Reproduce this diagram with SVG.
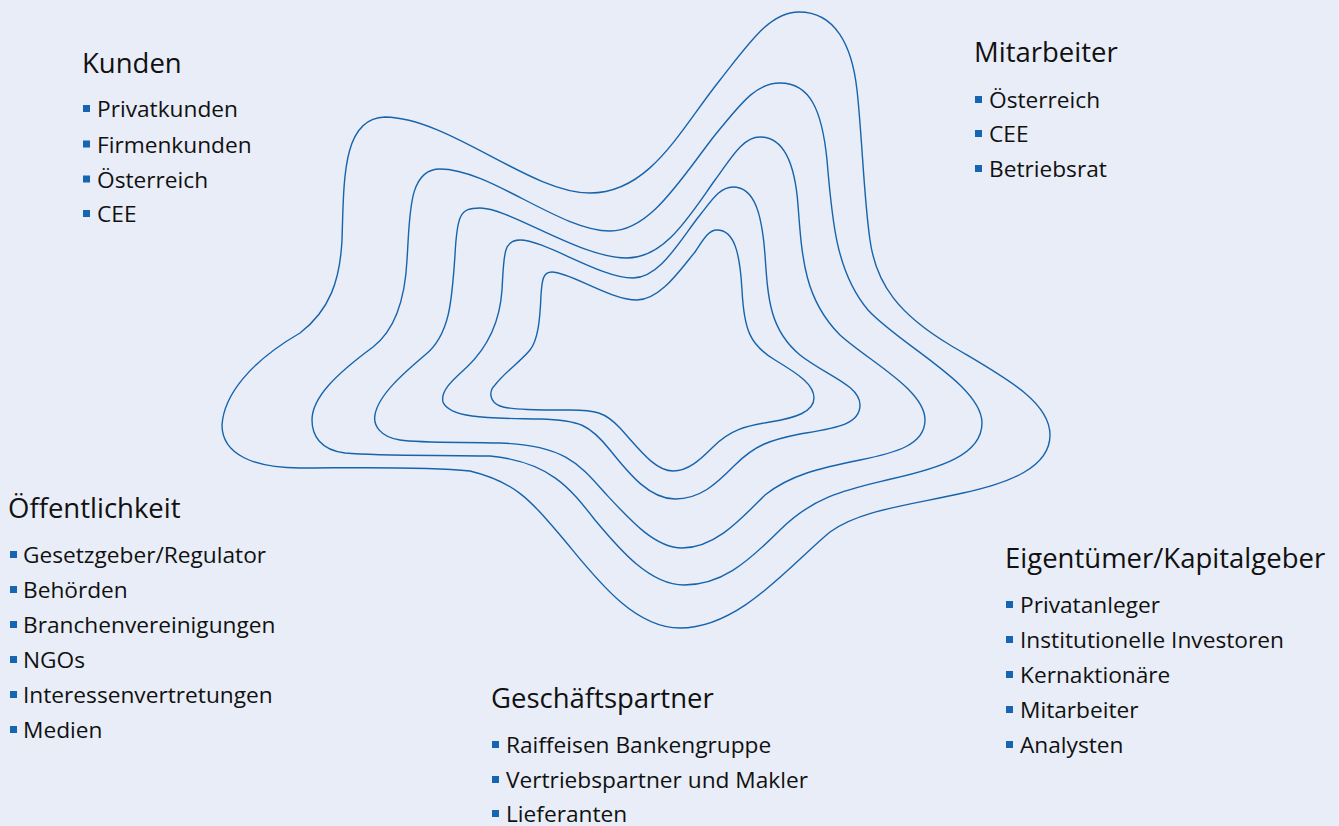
<svg xmlns="http://www.w3.org/2000/svg" width="1339" height="826" viewBox="0 0 1339 826">
<style>
.bg{fill:#e8edf7}
.ring{fill:none;stroke:#1763ac;stroke-width:1.4}
.t{font-family:"Open Sans","Noto Sans","Liberation Sans",sans-serif;fill:#111}
.h{font-size:27.5px}
.i{font-size:22.7px}
.b{fill:#1565b2}
</style>
<rect class="bg" x="0" y="0" width="1339" height="826"/>
<g id="rings">
<path id="ring1" class="ring" d="M799,12 C835,12 852,45 857,90 C862,135 864,200 870,240 C876,285 900,315 950,345 C1000,375 1050,400 1050,435 C1050,467 1010,483 963,493 C910,505 860,510 830,532 C790,565 740,628 680,628 C630,628 590,570 560,535 C530,500 515,482 470,471 C420,466 350,468 300,468 C255,468 222,455 222,425 C224,395 250,362 300,333 C330,310 340,280 342,240 C344,180 342,118 385,117 C450,118 530,193 590,193 C650,193 680,130 720,80 C750,42 770,12 799,12 Z"/>
<path id="ring2" class="ring" d="M780,83 C810,83 822,110 827,160 C832,220 836,272 868,310 C900,345 982,385 982,423 C982,455 940,468 891,479 C850,489 815,495 780,530 C745,565 720,585 684,585 C650,585 620,550 595,520 C570,488 550,462 490,456 C430,455 380,456 345,453 C320,450 312,435 312,420 C312,398 335,375 373,347 C395,330 405,300 407,260 C410,215 408,169 440,169 C490,169 560,231 610,231 C650,231 680,180 715,135 C740,105 755,83 780,83 Z"/>
<path id="ring3" class="ring" d="M760,137 C785,137 795,165 798,205 C802,260 805,300 840,335 C870,362 925,390 925,420 C925,445 895,453 860,460 C820,468 790,475 765,495 C740,520 715,548 682,548 C655,548 630,520 605,493 C580,465 565,445 500,443 C460,442 420,443 400,440 C380,437 373,425 375,415 C378,395 405,372 425,355 C450,335 452,300 455,255 C457,215 460,208 480,208 C510,208 580,258 627,258 C665,258 690,215 715,180 C730,160 742,137 760,137 Z"/>
<path id="ring4" class="ring" d="M733,187 C755,187 762,215 765,255 C768,300 770,330 800,355 C825,375 860,385 860,405 C860,425 835,428 800,434 C770,440 755,445 735,465 C715,485 700,499 675,499 C650,499 630,475 610,450 C590,425 580,420 540,419 C500,418 450,420 443,402 C440,390 455,378 467,367 C490,345 500,320 502,290 C504,255 503,240 520,240 C545,240 600,278 633,278 C660,278 680,240 700,215 C712,200 720,187 733,187 Z"/>
<path id="ring5" class="ring" d="M717,230 C735,230 740,255 742,290 C744,330 750,345 775,360 C800,375 814,385 814,398 C814,412 795,418 770,422 C745,426 730,430 713,447 C700,460 688,471 673,471 C655,471 640,450 620,428 C605,412 595,410 570,410 C540,410 510,410 500,406 C490,402 488,392 495,385 C505,372 520,362 530,350 C538,340 540,320 541,295 C542,280 543,272 552,272 C570,272 610,300 637,300 C660,300 680,270 695,252 C703,240 708,230 717,230 Z"/>
</g>
<g id="kunden" class="t">
<text class="t h" x="82" y="73">Kunden</text>
<rect class="b" x="83" y="105" width="7" height="7"/><text class="t i" x="97" y="117">Privatkunden</text>
<rect class="b" x="83" y="140.5" width="7" height="7"/><text class="t i" x="97" y="152.5">Firmenkunden</text>
<rect class="b" x="83" y="175.5" width="7" height="7"/><text class="t i" x="97" y="187.5">Österreich</text>
<rect class="b" x="83" y="210" width="7" height="7"/><text class="t i" x="97" y="222">CEE</text>
</g>
<g id="mitarbeiter" class="t">
<text class="t h" x="974" y="62">Mitarbeiter</text>
<rect class="b" x="975" y="96" width="7" height="7"/><text class="t i" x="989" y="108">Österreich</text>
<rect class="b" x="975" y="130" width="7" height="7"/><text class="t i" x="989" y="142">CEE</text>
<rect class="b" x="975" y="165" width="7" height="7"/><text class="t i" x="989" y="177">Betriebsrat</text>
</g>
<g id="oeffentlichkeit" class="t">
<text class="t h" x="8" y="518">Öffentlichkeit</text>
<rect class="b" x="10" y="551" width="7" height="7"/><text class="t i" x="23" y="563">Gesetzgeber/Regulator</text>
<rect class="b" x="10" y="586" width="7" height="7"/><text class="t i" x="23" y="598">Behörden</text>
<rect class="b" x="10" y="621" width="7" height="7"/><text class="t i" x="23" y="633">Branchenvereinigungen</text>
<rect class="b" x="10" y="656" width="7" height="7"/><text class="t i" x="23" y="668">NGOs</text>
<rect class="b" x="10" y="691" width="7" height="7"/><text class="t i" x="23" y="703">Interessenvertretungen</text>
<rect class="b" x="10" y="726" width="7" height="7"/><text class="t i" x="23" y="738">Medien</text>
</g>
<g id="geschaeftspartner" class="t">
<text class="t h" x="491" y="708">Geschäftspartner</text>
<rect class="b" x="492" y="741" width="7" height="7"/><text class="t i" x="506" y="753">Raiffeisen Bankengruppe</text>
<rect class="b" x="492" y="776" width="7" height="7"/><text class="t i" x="506" y="788">Vertriebspartner und Makler</text>
<rect class="b" x="492" y="810" width="7" height="7"/><text class="t i" x="506" y="822">Lieferanten</text>
</g>
<g id="eigentuemer" class="t">
<text class="t h" x="1005" y="568">Eigentümer/Kapitalgeber</text>
<rect class="b" x="1006" y="601" width="7" height="7"/><text class="t i" x="1020" y="613">Privatanleger</text>
<rect class="b" x="1006" y="636" width="7" height="7"/><text class="t i" x="1020" y="648">Institutionelle Investoren</text>
<rect class="b" x="1006" y="671" width="7" height="7"/><text class="t i" x="1020" y="683">Kernaktionäre</text>
<rect class="b" x="1006" y="706" width="7" height="7"/><text class="t i" x="1020" y="718">Mitarbeiter</text>
<rect class="b" x="1006" y="741" width="7" height="7"/><text class="t i" x="1020" y="753">Analysten</text>
</g>
</svg>
